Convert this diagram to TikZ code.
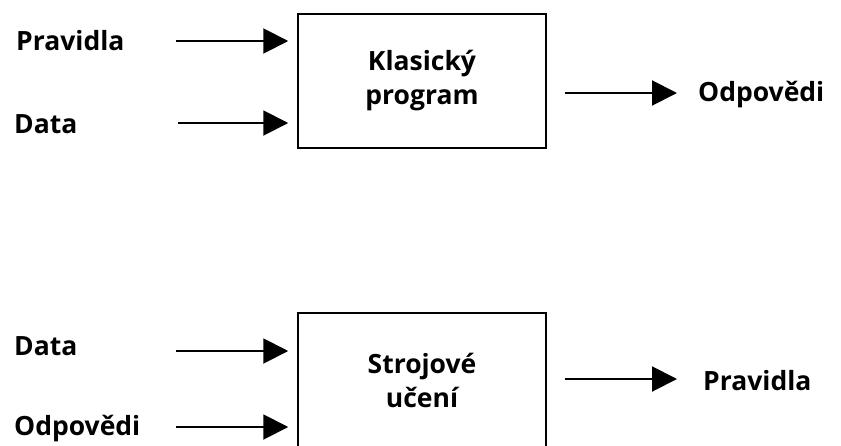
\documentclass[tikz,border=0pt]{standalone}
\usepackage{fontspec}
\setmainfont{Open Sans}
\usetikzlibrary{arrows.meta,positioning}
\tikzset{
    prog/.style={rectangle, draw, line width=1.5pt, minimum width=248pt, minimum height=134pt, inner sep=0, align=center, font=\bfseries\fontsize{26.5}{34}\selectfont},
    lbl/.style={anchor=base west, inner sep=0, font=\bfseries\fontsize{26.5}{30}\selectfont},
    flow/.style={-{Triangle[length=25pt,width=25pt]}, line width=2pt},
  }
\begin{document}
\begin{tikzpicture}[x=1pt, y=-1pt]
  \useasboundingbox (0,0) rectangle (841,445);
  % klasicky program
  \node (klas) [prog] at (422,81) {Klasický\\program};
  \node (prav1) [lbl] at (16,50) {Pravidla};
  \node (data1) [lbl] at (14,133) {Data};
  \node (odp1) [lbl] at (698,101) {Odpovědi};
  \coordinate (in1) at (176,41);
  \coordinate (in2) at (178,123);
  \coordinate (out1) at (564,93);
  \draw [flow, shorten >=9pt] (in1) -- (in1 -| klas.west);
  \draw [flow, shorten >=9pt] (in2) -- (in2 -| klas.west);
  \draw [flow, shorten >=21pt, shorten <=18pt] (klas.east |- out1) -- (out1 -| odp1.west);
  % strojove uceni
  \node (stroj) [prog] at (422,380) {Strojové\\učení};
  \node (data2) [lbl] at (14,355) {Data};
  \node (odp2) [lbl] at (14,435) {Odpovědi};
  \node (prav2) [lbl] at (703,390) {Pravidla};
  \coordinate (in3) at (176,351);
  \coordinate (in4) at (176,427);
  \coordinate (out2) at (564,379);
  \draw [flow, shorten >=9pt] (in3) -- (in3 -| stroj.west);
  \draw [flow, shorten >=9pt] (in4) -- (in4 -| stroj.west);
  \draw [flow, shorten >=26pt, shorten <=18pt] (stroj.east |- out2) -- (out2 -| prav2.west);
\end{tikzpicture}
\end{document}
